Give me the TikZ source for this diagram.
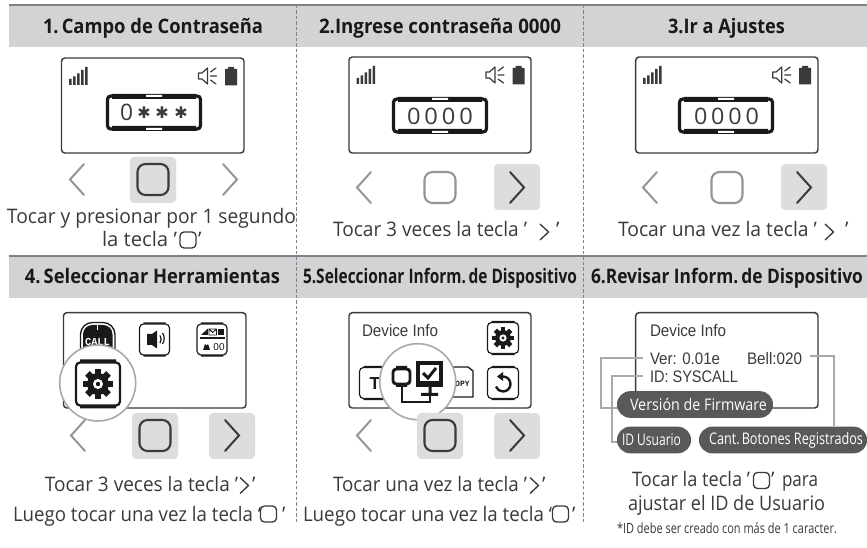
\documentclass[tikz,border=0pt]{standalone}
\usepackage{fontspec}
\usepackage{graphicx}
\setmainfont{Open Sans}
\newfontfamily\scr{Liberation Sans}
\newfontfamily\djv{DejaVu Sans}
\newfontfamily\mon{Liberation Mono}
\usetikzlibrary{backgrounds}
\newlength\pxu \setlength\pxu{.75pt}
\definecolor{band}{HTML}{D1D3D4}
\definecolor{rulec}{HTML}{808285}
\definecolor{ink}{HTML}{3A3A3C}
\definecolor{dim}{HTML}{939598}
\definecolor{hl}{HTML}{DCDDDE}
\definecolor{pillc}{HTML}{58595B}
\definecolor{connc}{HTML}{A7A9AC}
\newcommand{\fitw}[2]{\resizebox{#1\pxu}{\height}{#2}}
\tikzset{
  x=.75pt,y=-.75pt,
  txt/.style={anchor=base west,inner sep=0pt,outer sep=0pt,text=ink,font=\fontsize{15pt}{16pt}\selectfont},
  head/.style={txt,text=black!90,font=\fontsize{15pt}{16pt}\selectfont\bfseries},
  scrtxt/.style={txt,font=\fontsize{12.5pt}{14pt}\selectfont\scr},
  digit/.style={txt,font=\fontsize{17pt}{20pt}\selectfont},
  note/.style={txt,font=\fontsize{10.5pt}{11pt}\selectfont},
  panel/.style={draw=ink,line width=1.1pt,rounded corners=2.5pt,fill=white},
  chev/.style={line width=1.5pt,line cap=round,line join=miter},
  sqb/.style={line width=1.6pt,rounded corners=6pt},
  hlbox/.style={fill=hl,rounded corners=3pt},
  smallico/.style={draw=ink,line width=.9pt,line cap=round,line join=round},
  conn/.style={draw=connc,line width=1.2pt},
  pill/.style={fill=pillc,text=white,rounded corners=9.9pt,inner sep=0pt,minimum height=20pt,font=\fontsize{12pt}{13pt}\selectfont},
  lens/.style={draw=connc,line width=1.2pt,fill=white},
  dashrule/.style={draw=rulec,line width=.55pt,dash pattern=on 2.5pt off 1.6pt},
}
\newcommand{\chL}[3]{\draw[chev,draw=#3] (#1+14,#2-15.5) -- (#1,#2) -- (#1+14,#2+15.5);}
\newcommand{\chR}[3]{\draw[chev,draw=#3] (#1,#2-15.5) -- (#1+14,#2) -- (#1,#2+15.5);}
\newcommand{\sqB}[3]{\draw[sqb,draw=#3] (#1-15.5,#2-15.5) rectangle (#1+15.5,#2+15.5);}
\newcommand{\hlB}[2]{\fill[hlbox] (#1-23,#2-23) rectangle (#1+23,#2+23);}
\newcommand{\miniSq}[2]{\draw[draw=ink,line width=1pt,rounded corners=3pt] (#1-8,#2-8) rectangle (#1+8,#2+8);}
\newcommand{\miniCh}[2]{\draw[draw=ink,line width=1pt] (#1,#2-8) -- (#1+8.5,#2) -- (#1,#2+8);}
\newcommand{\statusIcons}[2]{%
  \begin{scope}[shift={(#1,#2)}]
    \fill[ink] (7.5,21) rectangle (10,27) (11.5,18.5) rectangle (14,27) (15.5,15.5) rectangle (18,27) (19.5,12) rectangle (22,27) (23.5,9) rectangle (26,27);
    \draw[smallico] (137,15) -- (140.5,15) -- (146,10) -- (146,26) -- (140.5,21) -- (137,21) -- cycle;
    \draw[smallico] (149,14) -- (154.5,10) (149,18) -- (155,18) (149,22) -- (154.5,26);
    \fill[ink] (163.5,11) rectangle (175.5,27.5) (166.5,9) rectangle (172.5,11);
  \end{scope}}
\newcommand{\pwBox}[2]{%
  \begin{scope}[shift={(#1,#2)}]
    \fill[black!90] (6,0) rectangle (90,5) (6,32) rectangle (90,37);
    \draw[black!90,line width=2.4pt,rounded corners=2.5pt] (1.5,2) rectangle (94.5,35);
    \fill[white] (40,1) rectangle (56,3) (40,34) rectangle (56,36);
  \end{scope}}
\newcommand{\iBox}[5]{%
  \fill[black!90] (#1-#3/2+4,#2-#4/2-#5) rectangle (#1+#3/2-4,#2-#4/2+#5)
    (#1-#3/2+4,#2+#4/2-#5) rectangle (#1+#3/2-4,#2+#4/2+#5);
  \draw[black!90,line width=#5*.55pt,rounded corners=3pt,fill=white] (#1-#3/2,#2-#4/2) rectangle (#1+#3/2,#2+#4/2);}
\newcommand{\gearI}[3]{%
  \begin{scope}[shift={(#1,#2)},scale=#3]
    \fill[black!90] (0,0) circle (11);
    \foreach \a in {0,45,...,315} {\fill[black!90,rotate=\a] (-3.2,0) rectangle (3.2,15);}
    \fill[white] (0,0) circle (5);
    \fill[black!90] (0,0) circle (2.2);
  \end{scope}}
\begin{document}
\begin{tikzpicture}
\useasboundingbox (0,0) rectangle (867,548);
\begin{scope}[on background layer]
\fill[white] (0,0) rectangle (867,548);
\end{scope}
% bands
\fill[band] (9,5) rectangle (867,46.7);
\fill[band] (9,256) rectangle (867,297.7);
\draw[rulec,line width=1.2pt] (9,5) -- (867,5);
\draw[rulec,line width=1.2pt] (9,256) -- (867,256);
\draw[dashrule] (296,5) -- (296,524);
\draw[dashrule] (583.5,5) -- (583.5,522);
% headers
\node[head] (h1) at (43,33.3) {\fitw{220}{1.\,Campo de Contraseña}};
\node[head] (h2) at (319,33.3) {\fitw{242}{2.Ingrese contraseña 0000}};
\node[head] (h3) at (668,33.3) {\fitw{117}{3.Ir a Ajustes}};
\node[head] (h4) at (25,284) {\fitw{255}{4.\,Seleccionar Herramientas}};
\node[head] (h5) at (303,284) {\fitw{274}{5.Seleccionar Inform.\,de Dispositivo}};
\node[head] (h6) at (591,284) {\fitw{272}{6.Revisar Inform.\,de Dispositivo}};
% panels row 1
\draw[panel] (61.5,58) rectangle (244,153);
\statusIcons{61.5}{58}
\pwBox{106}{94}
\node[digit] (p1d) at (120,121) {\fitw{13}{0}};
\node[inner sep=0pt,font=\djv\fontsize{12pt}{12pt}\selectfont,text=ink] (p1s1) at (144,113) {✱};
\node[inner sep=0pt,font=\djv\fontsize{12pt}{12pt}\selectfont,text=ink] (p1s2) at (162,113) {✱};
\node[inner sep=0pt,font=\djv\fontsize{12pt}{12pt}\selectfont,text=ink] (p1s3) at (181,113) {✱};
\draw[panel] (349,57) rectangle (531,153);
\statusIcons{349}{57}
\pwBox{392}{97}
\node[digit] (p2d) at (407,125) {\fitw{66}{0\,0\,0\,0}};
\draw[panel] (635.7,57) rectangle (818,153);
\statusIcons{635.7}{57}
\pwBox{678}{97}
\node[digit] (p3d) at (694,125) {\fitw{65}{0\,0\,0\,0}};
% buttons row 1
\chL{70}{179.5}{dim}
\hlB{153}{180}
\sqB{153}{179.5}{ink}
\chR{223}{179.5}{dim}
\chL{357}{187.5}{dim}
\sqB{440}{187.5}{dim}
\hlB{517}{187}
\chR{510}{187.5}{ink}
\chL{643}{187.5}{dim}
\sqB{727}{187.5}{dim}
\hlB{804}{187}
\chR{797}{187.5}{ink}
% row 1 text
\node[txt] (t1a) at (7,224) {\fitw{289}{Tocar y presionar por 1 segundo}};
\node[txt] (t1b) at (102,246.6) {\fitw{75}{la tecla ’}};
\miniSq{188}{240}
\node[txt] (t1c) at (198,246.6) {’};
\node[txt] (t2a) at (333,237) {\fitw{194}{Tocar 3 veces la tecla ’}};
\miniCh{540}{232}
\node[txt] (t2c) at (556,237) {’};
\node[txt] (t3a) at (618,237) {\fitw{199}{Tocar una vez la tecla ’}};
\miniCh{825}{232}
\node[txt] (t3c) at (845,237) {’};
% panel 4
\draw[panel] (63.5,312.7) rectangle (246,408);
\draw[black!90,line width=1pt,rounded corners=9pt] (80.5,362) rectangle (115,322.5);
\fill[black!90,rounded corners=7pt] (83,360) rectangle (112.5,325);
\fill[white] (96.7,325) rectangle (98.3,330);
\node[inner sep=0pt,text=white,font=\mon\bfseries\fontsize{8pt}{8pt}\selectfont] (callt) at (97.5,341.5) {\fitw{25}{CALL}};
\iBox{154.5}{339.5}{30}{31}{1.6}
\fill[black!90] (147,334) -- (152,334) -- (157,330.5) -- (157,348.5) -- (152,345) -- (147,345) -- cycle;
\draw[black!90,line width=.9pt] (160,335.5) arc[start angle=-35,end angle=35,radius=6.5] (162.5,333) arc[start angle=-35,end angle=35,radius=9.5];
\iBox{212}{339.5}{30}{31}{1.6}
\fill[black!90] (201,335) -- (208,328.5) -- (208,335) -- cycle;
\draw[black!90,line width=.7pt] (209,329) rectangle (216.5,335) (209,329) -- (212.7,332.5) -- (216.5,329);
\fill[black!90] (218,329) rectangle (224,335);
\draw[black!90,line width=.9pt] (199.5,338) -- (225,338);
\fill[black!90] (203,350) -- (205,344) arc[start angle=180,end angle=0,radius=1.5] -- (210,350) -- cycle;
\node[inner sep=0pt,text=black!90,font=\scr\fontsize{7.5pt}{7.5pt}\selectfont] (oo) at (219,347.5) {00};
\draw[lens] (97.7,383) circle (38);
\iBox{98}{384}{44}{43}{3}
\gearI{98}{384}{1}
% panel 5
\draw[panel] (349,312.7) rectangle (531,408);
\node[scrtxt] (d5) at (362,336.7) {\fitw{76}{Device Info}};
\iBox{503}{338}{31}{31}{1.6}
\gearI{503}{338}{.72}
\iBox{503}{383}{31}{31}{1.6}
\draw[black!90,line width=1.8pt] (499,376.5) -- (503,376.5) arc[start angle=-90,end angle=160,radius=7.5];
\fill[black!90] (497,376.5) -- (503,372) -- (503,381) -- cycle;
\iBox{375}{383}{31}{31}{1.6}
\node[inner sep=0pt,text=black!90,font=\scr\bfseries\fontsize{13pt}{13pt}\selectfont] (tt) at (375,383.5) {T};
\draw[black!90,line width=1pt,fill=white] (447,367) -- (468,367) -- (473,371) -- (473,397) -- (447,397);
\node[inner sep=0pt,text=black!90,font=\mon\bfseries\fontsize{6pt}{6pt}\selectfont] (copy) at (460,384) {COPY};
\draw[lens] (417.7,381.7) circle (38);
\draw[black!90,line width=2.2pt,rounded corners=2.5pt] (393,369) rectangle (410,384);
\fill[black!90] (396,366) rectangle (407,369) (396,384) rectangle (407,387);
\fill[black!90] (416,361) rectangle (443,387);
\fill[white] (420,365) rectangle (439,381);
\draw[black!90,line width=2.2pt] (423,373) -- (428,378) -- (436,368);
\fill[black!90] (428.5,387) rectangle (431.5,394) (421,393) rectangle (438,396);
\draw[black!90,line width=2.2pt] (402,386) -- (402,402) -- (430,402) -- (430,395);
% panel 6
\node[scrtxt] (d6) at (650,336.7) {\fitw{76}{Device Info}};
\node[scrtxt] (ver) at (650,365) {\fitw{70}{Ver: 0.01e}};
\node[scrtxt] (bell) at (747,365) {\fitw{55}{Bell:020}};
\node[scrtxt] (idn) at (650,383) {\fitw{88}{ID: SYSCALL}};
\node[pill,minimum width=117pt] (pver) at (695,404.5) {\hspace*{7\pxu}\fitw{137}{Versión de Firmware}};
\node[pill,minimum width=55.5pt] (pid) at (654,440) {\fitw{59}{ID Usuario}\hspace*{5\pxu}};
\node[pill,minimum width=126pt] (pcant) at (783,440) {\hspace*{6\pxu}\fitw{154}{Cant.\,Botones Registrados}};
\coordinate (vk) at (601,408);
\coordinate (ik) at (612,442);
\coordinate (bk) at (834,356);
\begin{scope}[on background layer]
\draw[panel] (635.7,312.7) rectangle (818,408);
\draw[conn] ([xshift=-7\pxu,yshift=1\pxu]ver.west) -| (vk) -- ([xshift=8\pxu]pver.west|-vk);
\draw[conn] ([xshift=-7\pxu,yshift=1\pxu]idn.west) -| (ik) -- ([xshift=8\pxu]pid.west|-ik);
\draw[conn] ([xshift=8\pxu]bell.east|-bk) -- (bk) -- (bk|-pcant.north);
\end{scope}
% buttons row 2
\chL{71}{435.5}{dim}
\hlB{155}{436}
\sqB{155}{435.5}{ink}
\hlB{232}{436}
\chR{225}{435.5}{ink}
\chL{357}{435.5}{dim}
\hlB{440}{436}
\sqB{440}{435.5}{ink}
\hlB{517}{436}
\chR{510}{435.5}{ink}
% row 2 text
\node[txt] (t4a) at (45,491.7) {\fitw{193}{Tocar 3 veces la tecla ’}};
\miniCh{240}{485.5}
\node[txt] (t4c) at (252,491.7) {’};
\node[txt] (t4d) at (13,521.7) {\fitw{248}{Luego tocar una vez la tecla ‘}};
\miniSq{268.5}{514}
\node[txt] (t4e) at (282,521.7) {’};
\node[txt] (t5a) at (333,491.7) {\fitw{194}{Tocar una vez la tecla ’}};
\miniCh{530}{485.5}
\node[txt] (t5c) at (542,491.7) {’};
\node[txt] (t5d) at (303,521.7) {\fitw{249}{Luego tocar una vez la tecla ‘}};
\miniSq{560.5}{514}
\node[txt] (t5e) at (572,521.7) {’};
\node[txt] (t6a) at (632,486.7) {\fitw{118}{Tocar la tecla ’}};
\miniSq{761.5}{480.5}
\node[txt] (t6b) at (771,486.7) {’};
\node[txt] (t6c) at (782,486.7) {\fitw{36}{para}};
\node[txt] (t6d) at (628,510.7) {\fitw{197}{ajustar el ID de Usuario}};
\node[note] (t6e) at (617,533) {\fitw{220}{*ID debe ser creado con más de 1 caracter.}};
\end{tikzpicture}
\end{document}
